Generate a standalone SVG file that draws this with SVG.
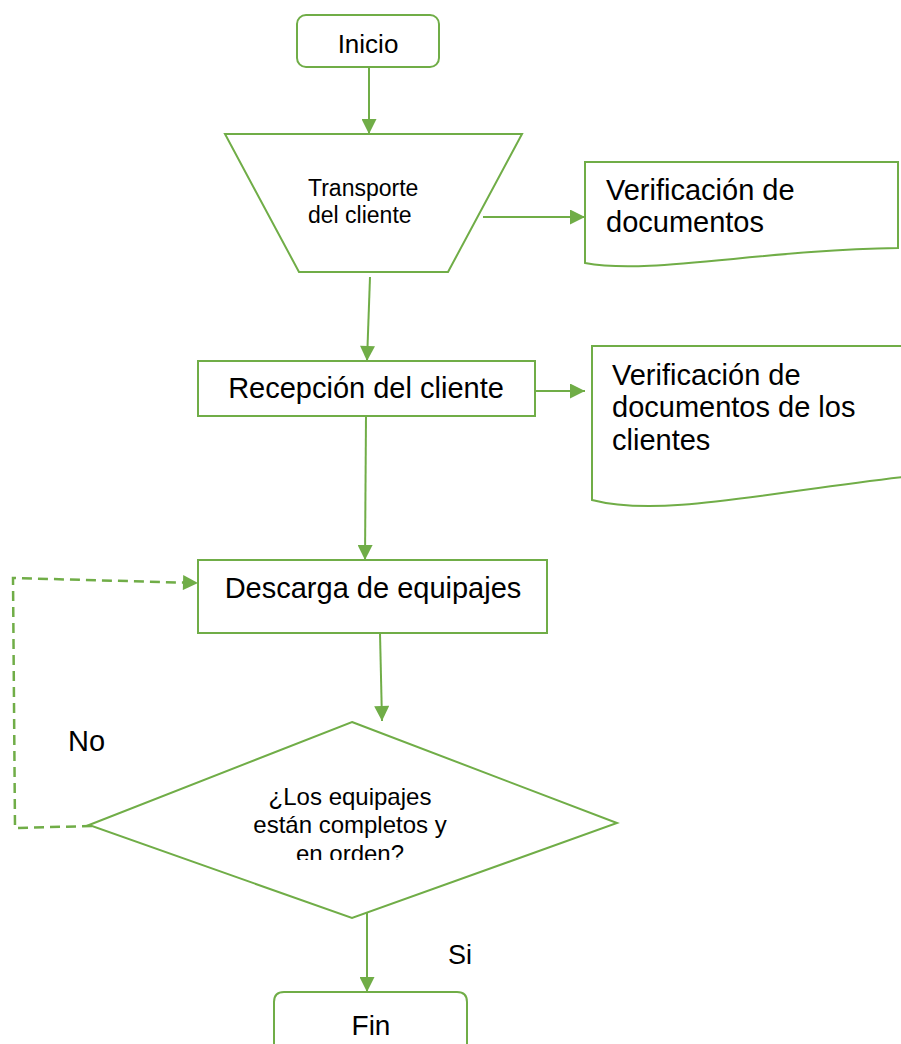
<svg xmlns="http://www.w3.org/2000/svg" width="901" height="1044" viewBox="0 0 901 1044">
  <style>
    .shape { fill: #ffffff; stroke: #70AD47; stroke-width: 2; }
    .conn { fill: none; stroke: #70AD47; stroke-width: 2; }
    .dash { fill: none; stroke: #70AD47; stroke-width: 2.5; stroke-dasharray: 10 6; }
    .t { font-family: "Liberation Sans", Arial, sans-serif; fill: #000000; }
  </style>
  <defs>
    <marker id="arr" viewBox="0 0 10 10" refX="10" refY="5" markerUnits="userSpaceOnUse" markerWidth="16" markerHeight="15" orient="auto">
      <path d="M0,0 L10,5 L0,10 z" fill="#70AD47"/>
    </marker>
    <clipPath id="dclip">
      <rect x="0" y="700" width="901" height="160"/>
    </clipPath>
  </defs>
  <rect width="901" height="1044" fill="#ffffff"/>

  <g id="connectors">
    <path class="conn" d="M369,67 L369,134" marker-end="url(#arr)"/>
    <path class="conn" d="M370,277 L367,361" marker-end="url(#arr)"/>
    <path class="conn" d="M483,217 L585,217" marker-end="url(#arr)"/>
    <path class="conn" d="M535,391 L585,391" marker-end="url(#arr)"/>
    <path class="conn" d="M366,416 L365,560" marker-end="url(#arr)"/>
    <path class="conn" d="M380,633 L382,721" marker-end="url(#arr)"/>
    <path class="dash" d="M92,826 L15,828 L13,578 L198,583" marker-end="url(#arr)"/>
    <path class="conn" d="M367,911 L367,992" marker-end="url(#arr)"/>
  </g>

  <g id="inicio">
    <rect class="shape" x="297" y="15" width="142" height="52" rx="9" ry="9"/>
    <text class="t" x="368" y="53" font-size="26" text-anchor="middle">Inicio</text>
  </g>

  <g id="transporte">
    <polygon class="shape" points="225,134 522,134 448,272 299,272"/>
    <text class="t" x="308" y="196" font-size="23">Transporte</text>
    <text class="t" x="308" y="223" font-size="23">del cliente</text>
  </g>

  <g id="doc1">
    <path class="shape" d="M585,162 L898,162 L898,248 C760,250 650,275 585,263 Z"/>
    <text class="t" x="606" y="200" font-size="29">Verificación de</text>
    <text class="t" x="606" y="232" font-size="29">documentos</text>
  </g>

  <g id="recepcion">
    <rect class="shape" x="198" y="361" width="337" height="55"/>
    <text class="t" x="366" y="398" font-size="29" text-anchor="middle">Recepción del cliente</text>
  </g>

  <g id="doc2">
    <path class="shape" d="M903,346 L592,346 L592,500 C660,518 770,492 903,477"/>
    <text class="t" x="612" y="385" font-size="29">Verificación de</text>
    <text class="t" x="612" y="417" font-size="29">documentos de los</text>
    <text class="t" x="612" y="450" font-size="29">clientes</text>
  </g>

  <g id="descarga">
    <rect class="shape" x="198" y="560" width="349" height="73"/>
    <text class="t" x="373" y="598" font-size="29" text-anchor="middle">Descarga de equipajes</text>
  </g>

  <g id="decision">
    <polygon class="shape" points="352,722 617,823 352,918 89,825"/>
    <g clip-path="url(#dclip)">
      <text class="t" x="350" y="805" font-size="24" text-anchor="middle">¿Los equipajes</text>
      <text class="t" x="350" y="833" font-size="24" text-anchor="middle">están completos y</text>
      <text class="t" x="350" y="862" font-size="24" text-anchor="middle">en orden?</text>
    </g>
  </g>

  <g id="label-no">
    <text class="t" x="68" y="751" font-size="29">No</text>
  </g>
  <g id="label-si">
    <text class="t" x="448" y="964" font-size="27">Si</text>
  </g>

  <g id="fin">
    <path class="shape" d="M274,1046 L274,1002 Q274,992 284,992 L457,992 Q467,992 467,1002 L467,1046"/>
    <text class="t" x="371" y="1035" font-size="28" text-anchor="middle">Fin</text>
  </g>
</svg>
